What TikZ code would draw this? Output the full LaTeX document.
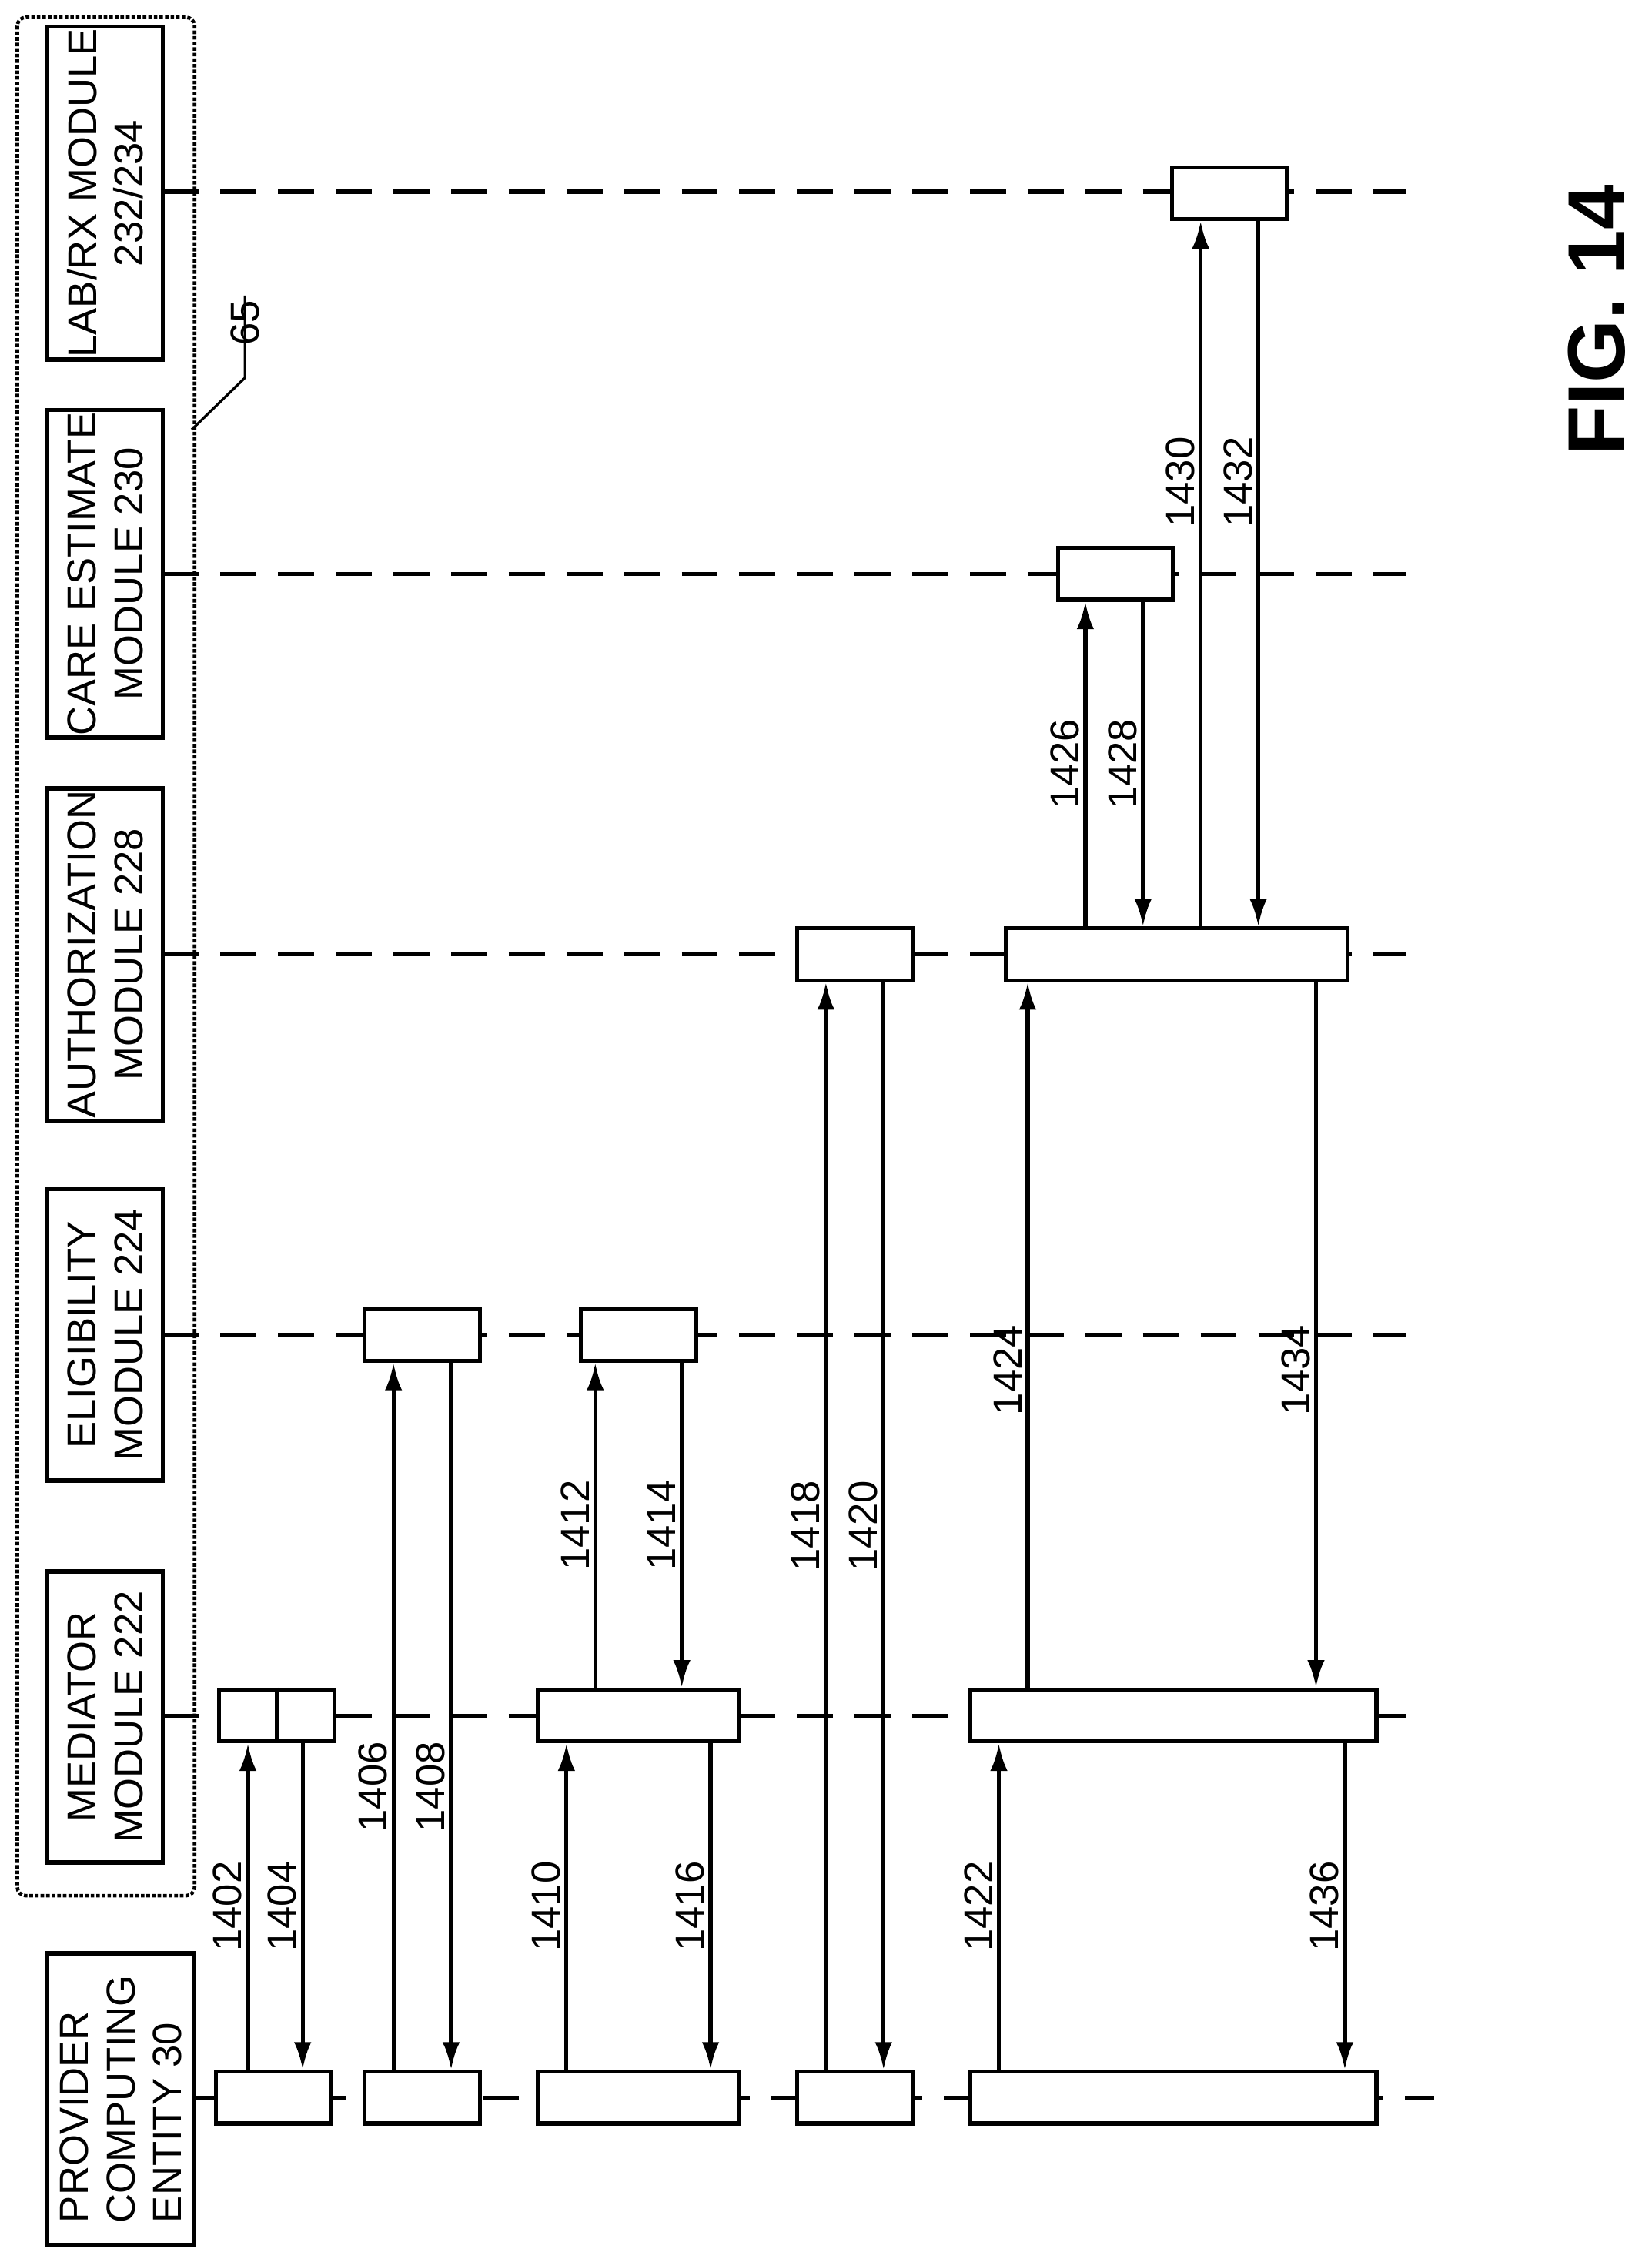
\documentclass[tikz,border=0pt]{standalone}
\usepackage{fontspec}
\setmainfont{Liberation Sans}
\usetikzlibrary{arrows.meta,calc}
\begin{document}
\begin{tikzpicture}[x=0.05cm, y=-0.05cm, line width=4pt,
  module/.style={draw, rotate=90, minimum width=10.1cm, minimum height=4cm, align=center, inner sep=2pt, font=\fontsize{40}{46}\selectfont},
  act/.style={draw, fill=white, minimum height=1.8cm, inner sep=0pt},
  life/.style={dash pattern=on 1.25cm off 0.75cm},
  msg/.style={-{Latex[length=0.95cm,width=0.6cm]}},
  num/.style={rotate=90, above, font=\fontsize{40}{46}\selectfont, inner sep=4pt}]
\useasboundingbox (0,0) rectangle (1146,1567);
% modules
\draw[dotted, line width=3.5pt, rounded corners=0.3cm] (12,12) rectangle (135,1315);
\node[module] (lab)  at (73,134)  {LAB/RX MODULE\\232/234};
\node[module] (care) at (73,398)  {CARE ESTIMATE\\MODULE 230};
\node[module] (auth) at (73,662)  {AUTHORIZATION\\MODULE 228};
\node[module] (elig) at (73,926)  {ELIGIBILITY\\MODULE 224};
\node[module] (med)  at (73,1191) {MEDIATOR\\MODULE 222};
\node[module, minimum height=5.1cm, align=left] (prov) at (84,1456) {PROVIDER\\COMPUTING\\ENTITY 30};
% reference 65
\draw[line width=2.5pt] (133,298) -- (170,262) -- (170,205) node[rotate=90, left, font=\fontsize{40}{46}\selectfont] {65};
% lifelines
\draw[life] (113,133) -- (975,133);
\draw[life] (113,398) -- (975,398);
\draw[life] (113,662) -- (975,662);
\draw[life] (113,926) -- (975,926);
\draw[life] (113,1190) -- (975,1190);
\draw[life] (135,1455) -- (995,1455);
% activations
\node[act, minimum width=4cm] (lab1) at (853,134) {};
\node[act, minimum width=4cm] (care1) at (774,398) {};
\node[act, minimum width=4cm] (auth1) at (593,662) {};
\node[act, minimum width=11.85cm] (auth2) at (816.5,662) {};
\node[act, minimum width=4cm] (elig1) at (293,926) {};
\node[act, minimum width=4cm] (elig2) at (443,926) {};
\node[act, minimum width=4cm] (med1) at (192,1190) {};
\draw (med1.north) -- (med1.south);
\node[act, minimum width=7cm] (med2) at (443,1190) {};
\node[act, minimum width=14.1cm] (med3) at (814,1190) {};
\node[act, minimum width=4cm] (prov1) at (190,1455) {};
\node[act, minimum width=4cm] (prov2) at (293,1455) {};
\node[act, minimum width=7cm] (prov3) at (443,1455) {};
\node[act, minimum width=4cm] (prov4) at (593,1455) {};
\node[act, minimum width=14.1cm] (prov5) at (814,1455) {};
% messages
\draw[msg] (prov1.north -| 172,0) -- (med1.south -| 172,0) node[num, pos=0.5] {1402};
\draw[msg] (med1.south -| 210,0) -- (prov1.north -| 210,0) node[num, pos=0.5] {1404};
\draw[msg] (prov2.north -| 273,0) -- (elig1.south -| 273,0) node[num, pos=0.4] {1406};
\draw[msg] (elig1.south -| 313,0) -- (prov2.north -| 313,0) node[num, pos=0.6] {1408};
\draw[msg] (prov3.north -| 393,0) -- (med2.south -| 393,0) node[num, pos=0.5] {1410};
\draw[msg] (med2.south -| 493,0) -- (prov3.north -| 493,0) node[num, pos=0.5] {1416};
\draw[msg] (med2.north -| 413,0) -- (elig2.south -| 413,0) node[num, pos=0.5] {1412};
\draw[msg] (elig2.south -| 473,0) -- (med2.north -| 473,0) node[num, pos=0.5] {1414};
\draw[msg] (prov4.north -| 573,0) -- (auth1.south -| 573,0) node[num, pos=0.5] {1418};
\draw[msg] (auth1.south -| 613,0) -- (prov4.north -| 613,0) node[num, pos=0.5] {1420};
\draw[msg] (prov5.north -| 693,0) -- (med3.south -| 693,0) node[num, pos=0.5] {1422};
\draw[msg] (med3.south -| 933,0) -- (prov5.north -| 933,0) node[num, pos=0.5] {1436};
\draw[msg] (med3.north -| 713,0) -- (auth2.south -| 713,0) node[num, pos=0.45] {1424};
\draw[msg] (auth2.south -| 913,0) -- (med3.north -| 913,0) node[num, pos=0.55] {1434};
\draw[msg] (auth2.north -| 753,0) -- (care1.south -| 753,0) node[num, pos=0.5] {1426};
\draw[msg] (care1.south -| 793,0) -- (auth2.north -| 793,0) node[num, pos=0.5] {1428};
\draw[msg] (auth2.north -| 833,0) -- (lab1.south -| 833,0) node[num, pos=0.63] {1430};
\draw[msg] (lab1.south -| 873,0) -- (auth2.north -| 873,0) node[num, pos=0.37] {1432};
\node[rotate=90, font=\fontsize{80}{90}\selectfont\bfseries] (fig) at (1108,222) {FIG. 14};
\end{tikzpicture}
\end{document}
